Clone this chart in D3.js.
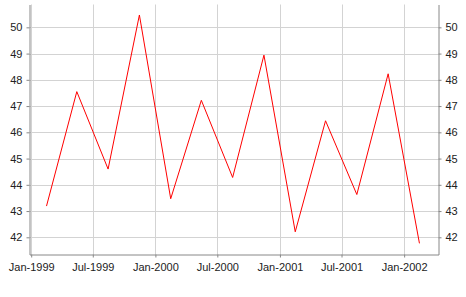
<!DOCTYPE html>
<html>
<head>
<meta charset="utf-8">
<script src="https://cdn.jsdelivr.net/npm/d3@7"></script>
<style>
  body { margin: 0; background: #fff; }
  text { font-family: "Liberation Sans", Arial, sans-serif; font-size: 11px; fill: #222; }
</style>
</head>
<body>
<div id="chart"></div>
<script>
const dates = ["1999-02-15", "1999-05-15", "1999-08-15", "1999-11-15",
  "2000-02-15", "2000-05-15", "2000-08-15", "2000-11-15",
  "2001-02-15", "2001-05-15", "2001-08-15", "2001-11-15", "2002-02-15"];
const values = [43.19, 47.55, 44.6, 50.47, 43.47, 47.22, 44.28, 48.94, 42.21, 46.44, 43.63, 48.23, 41.77];
const yTicks = [42, 43, 44, 45, 46, 47, 48, 49, 50];
const xTicks = ["1999-01-01", "1999-07-01", "2000-01-01", "2000-07-01", "2001-01-01", "2001-07-01", "2002-01-01"];

const width = 466, height = 297;
const plotLeft = 29.5, plotRight = 438.5, plotTop = 4.5, plotBottom = 254.5;

const parse = d3.utcParse("%Y-%m-%d");
const data = dates.map((d, i) => ({ date: parse(d), value: values[i] }));

const x = d3.scaleUtc()
  .domain([parse("1998-12-27"), parse("2002-04-12")])
  .range([plotLeft, plotRight]);

const y = d3.scaleLinear()
  .domain([41.345, 50.87])
  .range([plotBottom, plotTop]);

const svg = d3.select("#chart")
  .append("svg")
  .attr("width", width)
  .attr("height", height);

// grid
svg.append("g")
  .selectAll("line")
  .data(yTicks)
  .enter()
  .append("line")
  .attr("x1", plotLeft).attr("x2", plotRight)
  .attr("y1", d => Math.round(y(d)) + 0.5).attr("y2", d => Math.round(y(d)) + 0.5)
  .attr("stroke", "#d3d3d3");

svg.append("g")
  .selectAll("line")
  .data(xTicks.map(parse))
  .enter()
  .append("line")
  .attr("x1", d => Math.round(x(d)) + 0.5).attr("x2", d => Math.round(x(d)) + 0.5)
  .attr("y1", plotTop).attr("y2", plotBottom)
  .attr("stroke", "#d3d3d3");

const fmt = d3.utcFormat("%b-%Y");

const styleAxis = g => {
  g.select(".domain").attr("stroke", "#888");
  g.selectAll(".tick line").attr("stroke", "#888");
  g.selectAll(".tick text")
    .style("font-family", "'Liberation Sans', Arial, sans-serif")
    .style("font-size", "11px")
    .attr("fill", "#222");
};

svg.append("g")
  .attr("transform", `translate(0,${plotBottom})`)
  .call(d3.axisBottom(x).tickValues(xTicks.map(parse)).tickFormat(fmt).tickSizeInner(3).tickSizeOuter(0).tickPadding(6))
  .call(styleAxis);

svg.append("g")
  .attr("transform", `translate(${plotLeft},0)`)
  .call(d3.axisLeft(y).tickValues(yTicks).tickSizeInner(3).tickSizeOuter(0).tickPadding(4))
  .call(styleAxis);

svg.append("g")
  .attr("transform", `translate(${plotRight},0)`)
  .call(d3.axisRight(y).tickValues(yTicks).tickSizeInner(3).tickSizeOuter(0).tickPadding(4))
  .call(styleAxis);

const line = d3.line()
  .x(d => x(d.date))
  .y(d => y(d.value));

svg.append("path")
  .datum(data)
  .attr("d", line)
  .attr("fill", "none")
  .attr("stroke", "#ff0000")
  .attr("stroke-width", 1);
</script>
</body>
</html>
